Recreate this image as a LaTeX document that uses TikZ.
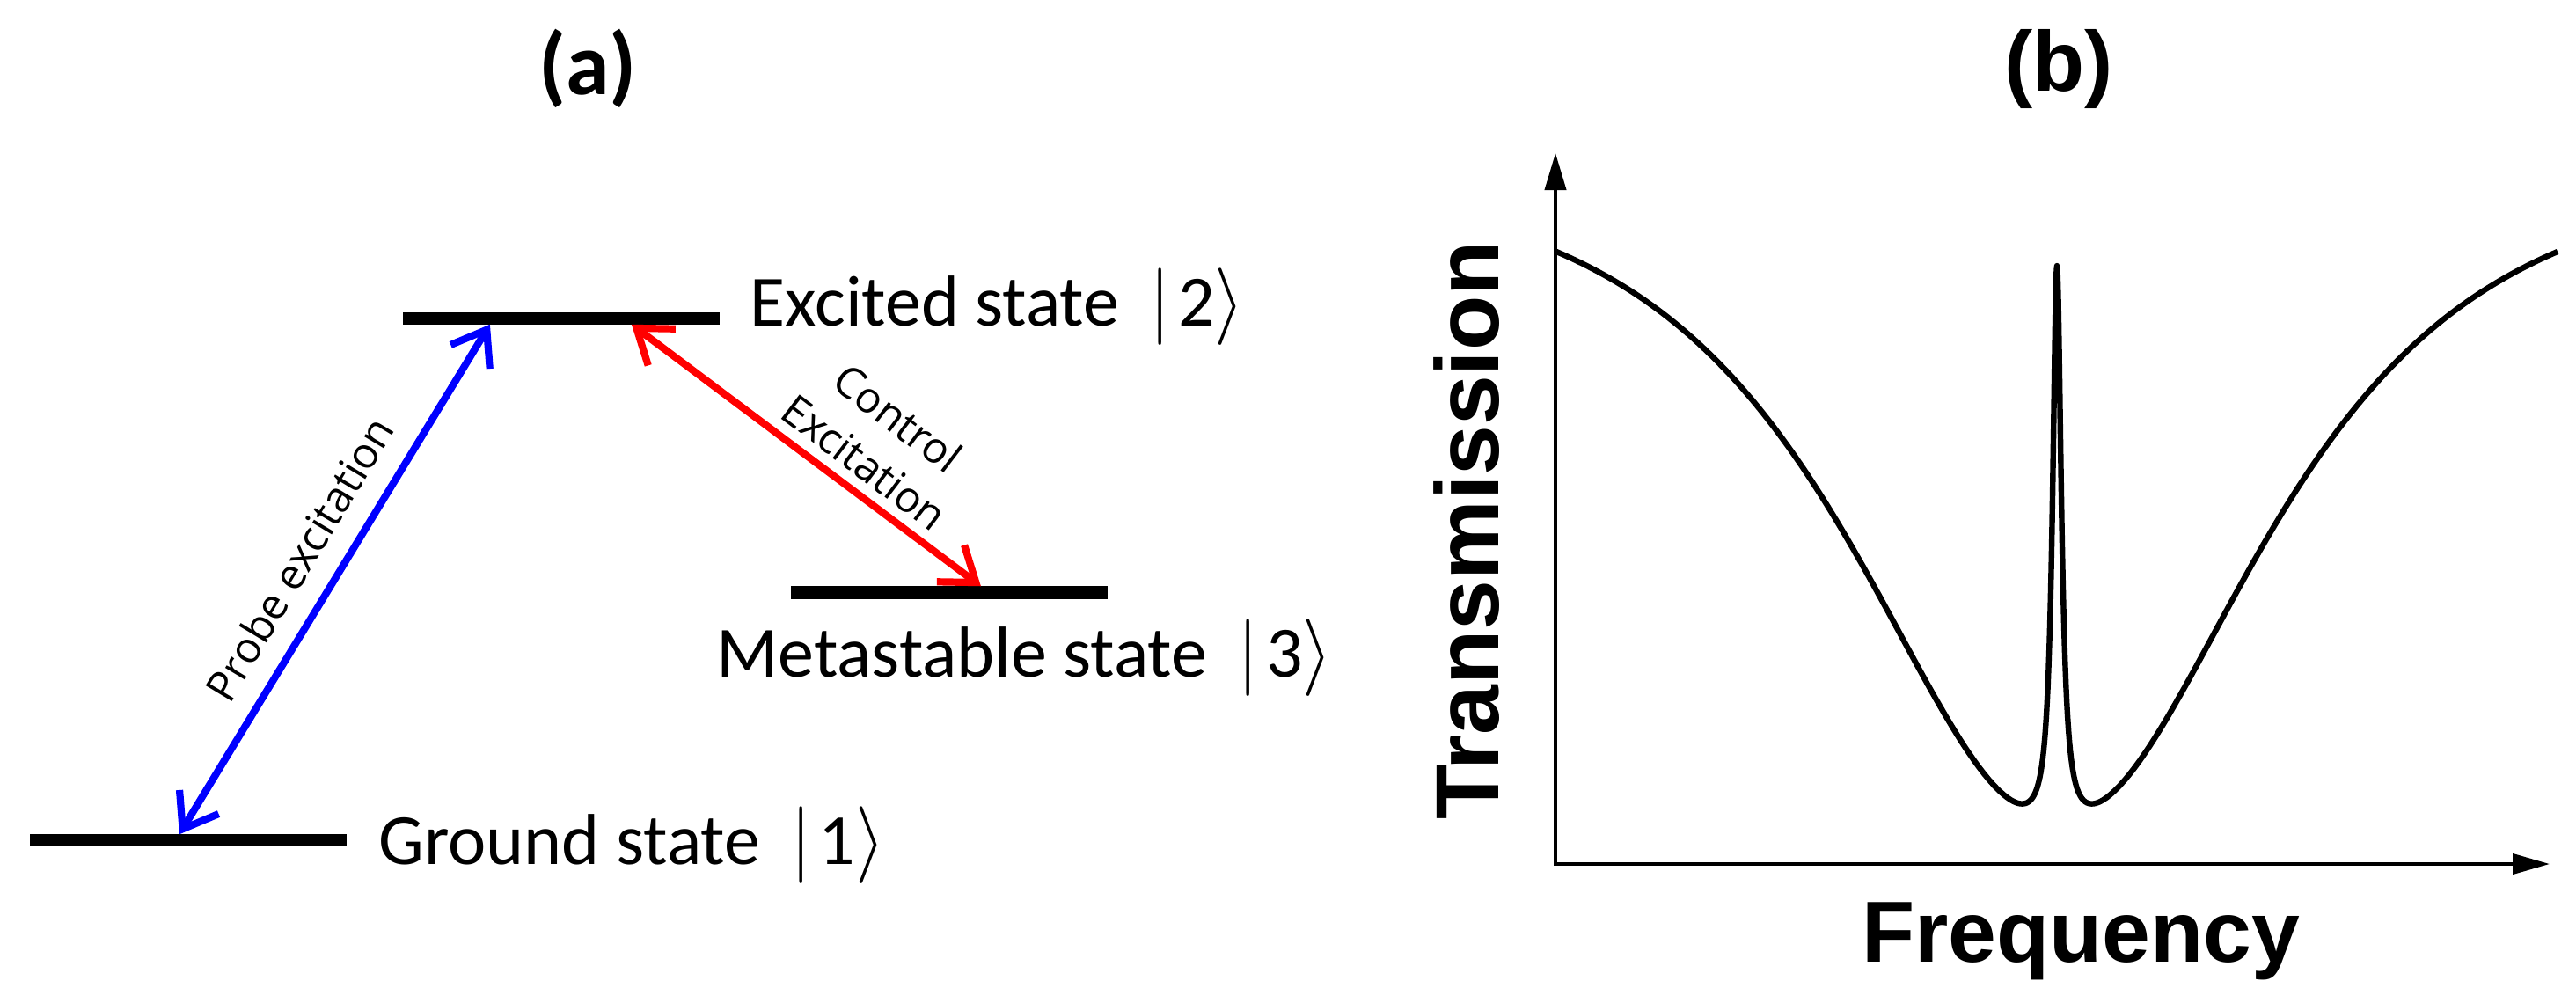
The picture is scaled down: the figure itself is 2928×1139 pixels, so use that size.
\documentclass[tikz,border=0pt]{standalone}
\usepackage{fontspec}
\setmainfont{Carlito}
\newfontfamily\osans{Open Sans}
\newfontfamily\arialf{Liberation Sans}
\usetikzlibrary{arrows.meta}
\begin{document}
\begin{tikzpicture}[x=0.01cm,y=-0.01cm,
  level/.style={fill=black, draw=none, minimum width=3.6cm, minimum height=0.135cm, inner sep=0pt, outer sep=0pt},
  statelbl/.style={anchor=base west, inner sep=0pt, font=\fontsize{23.3}{28}\selectfont},
  trans/.style={line width=0.082cm, {Straight Barb[length=0.36cm,width=0.52cm]}-{Straight Barb[length=0.36cm,width=0.52cm]}},
  arrlbl/.style={inner sep=0pt, font=\osans\fontsize{13.8}{17.9}\selectfont, align=center},
  panel/.style={inner sep=0pt, font=\bfseries\fontsize{28.5}{34}\selectfont},
  axis/.style={line width=0.04cm, {Triangle[length=0.42cm,width=0.24cm]}-{Triangle[length=0.42cm,width=0.23cm]}},
  curve/.style={line width=0.064cm, line join=round},
  axlbl/.style={inner sep=0pt, font=\arialf\bfseries\fontsize{29}{34}\selectfont},
  declare function={tcurve(\u)=200+742/cosh(\u/200)*(1-0.8625/(1+(\u/6)*(\u/6)));}
]
\fill[white] (0,0) rectangle (2928,1139);
\useasboundingbox (0,0) rectangle (2928,1139);

% ---------- panel (a) ----------
\node[panel] (pa) at (668,78) {(a)};

\node[level] (e2) at (638,362) {};
\node[level, minimum height=0.145cm] (m3) at (1079,673.5) {};
\node[level] (g1) at (214,955) {};

\node[statelbl] (l2) at (852,370) {Excited state\hspace{0.42em}$|$\hspace{0.1em}2$\rangle$};
\node[statelbl] (l3) at (814,769) {Metastable state\hspace{0.42em}$|$\hspace{0.1em}3$\rangle$};
\node[statelbl] (l1) at (430,982) {Ground state\hspace{0.42em}$|$\hspace{0.1em}1$\rangle$};

\path (g1.north west) ++(170,0) coordinate (b1);
\path (e2.south west) ++(99,0) coordinate (b2);
\path (e2.south west) ++(260,0) coordinate (r1);
\path (m3.north west) ++(216,0) coordinate (r2);

\draw[trans, blue] (b1) -- (b2);
\draw[trans, red] (r1) -- (r2);

\node[arrlbl, rotate=59] (lp) at (340,635) {Probe excitation};
\node[arrlbl, rotate=-37.3] (lc) at (1002,500) {Control\\Excitation};

% ---------- panel (b) ----------
\node[panel, font=\arialf\bfseries\fontsize{27.5}{33}\selectfont] (pb) at (2340,78) {(b)};

\coordinate (O) at (1768,982);
\coordinate (ytip) at (1768,174);
\coordinate (xtip) at (2898,982);
\draw[axis] (ytip) -- (O) -- (xtip);

\draw[curve] plot[domain=-569:-60, samples=90] ({2338+\x},{tcurve(\x)})
  -- plot[domain=-60:60, samples=241] ({2338+\x},{tcurve(\x)})
  -- plot[domain=60:569, samples=90] ({2338+\x},{tcurve(\x)});

\node[axlbl, rotate=90] (ty) at (1667,603) {Transmission};
\node[axlbl, font=\arialf\bfseries\fontsize{28}{33}\selectfont, anchor=base] (tx) at (2365,1093) {Frequency};
\end{tikzpicture}
\end{document}
